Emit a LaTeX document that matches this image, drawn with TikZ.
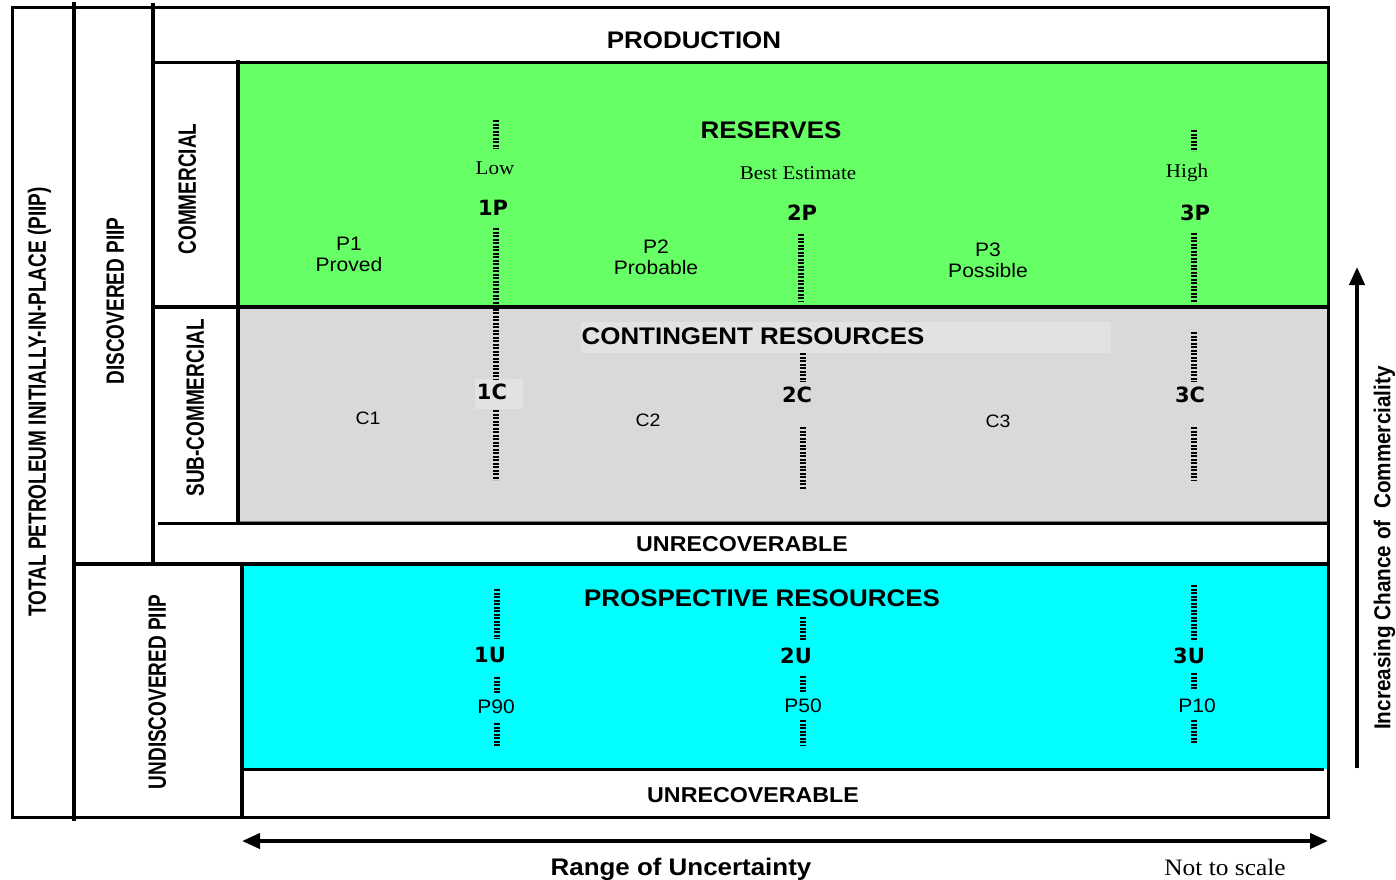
\documentclass[tikz,border=0pt]{standalone}
\usepackage{fontspec}
\usepackage{graphicx}
\setmainfont{Liberation Sans}
\newfontfamily\hfont[FakeStretch=1.08]{Liberation Sans}
\newfontfamily\nfont[FakeStretch=0.76]{Liberation Sans}
\newfontfamily\cfont[FakeStretch=0.9]{Liberation Sans}
\newfontfamily\sfont[FakeStretch=1.08]{Liberation Serif}
\newfontfamily\dfont{DejaVu Sans}
\usetikzlibrary{arrows.meta}
\definecolor{resgreen}{HTML}{66FF66}
\definecolor{congray}{HTML}{D9D9D9}
\definecolor{conlight}{HTML}{E2E2E2}
\definecolor{procyan}{HTML}{00FFFF}
\tikzset{
  heavy/.style={line width=3.5pt, line cap=rect},
  outer/.style={line width=3pt},
  dotln/.style={line width=5.5pt, dash pattern=on 2.2pt off 1.3pt},
  head/.style={font=\hfont\bfseries\fontsize{24}{26}\selectfont, inner sep=0pt, text height=17.2pt, text depth=0pt},
  unrec/.style={font=\hfont\bfseries\fontsize{21.5}{23}\selectfont, inner sep=0pt, text height=15.4pt, text depth=0pt},
  lab/.style={font=\dfont\bfseries\fontsize{21}{21}\selectfont, inner sep=0pt, text height=15.3pt, text depth=0pt},
  reg/.style={font=\hfont\fontsize{19.5}{21}\selectfont, inner sep=0pt, text height=14pt, text depth=0pt, align=center},
  small/.style={font=\hfont\fontsize{18}{20}\selectfont, inner sep=0pt, text height=12.9pt, text depth=0pt},
  ser/.style={font=\sfont\fontsize{19.5}{21}\selectfont, inner sep=0pt, text height=12.9pt, text depth=0pt},
  sidelab/.style={font=\nfont\bfseries\fontsize{25}{25}\selectfont, rotate=90, inner sep=0pt, text height=17.9pt, text depth=0pt},
  arr/.style={line width=4pt, -{Triangle[length=18pt,width=15pt]}},
}
\begin{document}
\begin{tikzpicture}[x=1pt,y=-1pt]
\useasboundingbox (0,0) rectangle (1396,879);
% fills
\fill[resgreen] (238,62) rectangle (1328,307);
\fill[congray] (238,307) rectangle (1328,521);
\fill[conlight] (581,322) rectangle (1111,353);
\fill[conlight] (475,379) rectangle (523,409);
\fill[procyan] (242,565) rectangle (1328,769);
\draw[gray, line width=1pt] (238,521) -- (1328,521);
% frame lines
\draw[outer] (12,7) rectangle (1328,817);
\draw[heavy] (74,4) -- (74,819);
\draw[heavy] (153,5) -- (153,563);
\draw[outer] (153,62) -- (1328,62);
\draw[heavy] (238,62) -- (238,520);
\draw[heavy] (153,307) -- (1328,307);
\draw[outer] (158,523) -- (1328,523);
\draw[heavy] (74,564) -- (1328,564);
\draw[heavy] (242,565) -- (242,816);
\draw[outer] (242,769) -- (1324,769);
% dotted lines column 1
\draw[dotln] (496,120) -- (496,149);
\draw[dotln] (496,228) -- (496,379);
\draw[dotln] (496,410) -- (496,480);
\draw[dotln] (497,589) -- (497,639);
\draw[dotln] (497,677) -- (497,693);
\draw[dotln] (497,723) -- (497,746);
% column 2
\draw[dotln] (801,234) -- (801,302);
\draw[dotln] (803,353) -- (803,382);
\draw[dotln] (803,427) -- (803,489);
\draw[dotln] (803,617) -- (803,640);
\draw[dotln] (803,676) -- (803,693);
\draw[dotln] (803,720) -- (803,746);
% column 3
\draw[dotln] (1194,130) -- (1194,151);
\draw[dotln] (1194,233) -- (1194,302);
\draw[dotln] (1194,332) -- (1194,382);
\draw[dotln] (1194,427) -- (1194,481);
\draw[dotln] (1194,585) -- (1194,641);
\draw[dotln] (1194,673) -- (1194,690);
\draw[dotln] (1194,720) -- (1194,743);
% texts
\node[head] (prod) at (694,40) {PRODUCTION};
\node[head] (res) at (771,130) {RESERVES};
\node[ser] (low) at (495,168) {Low};
\node[ser] (best) at (798,173) {Best Estimate};
\node[ser] (high) at (1187,171) {High};
\node[lab] (p1p) at (493,208) {1P};
\node[lab] (p2p) at (802,213) {2P};
\node[lab] (p3p) at (1195,213) {3P};
\node[reg] (pp1) at (349,264) {P1\\Proved};
\node[reg] (pp2) at (656,267) {P2\\Probable};
\node[reg] (pp3) at (988,270) {P3\\Possible};
\node[head] (cont) at (753,336) {CONTINGENT RESOURCES};
\node[lab] (c1c) at (492,392) {1C};
\node[lab] (c2c) at (797,395) {2C};
\node[lab] (c3c) at (1190,395) {3C};
\node[small] (cc1) at (368,418) {C1};
\node[small] (cc2) at (648,420) {C2};
\node[small] (cc3) at (998,421) {C3};
\node[unrec] (unr1) at (742,544) {UNRECOVERABLE};
\node[head] (pros) at (762,598) {PROSPECTIVE RESOURCES};
\node[lab] (u1u) at (490,655) {1U};
\node[lab] (u2u) at (796,656) {2U};
\node[lab] (u3u) at (1189,656) {3U};
\node[reg] (p90) at (496,706) {P90};
\node[reg] (p50) at (803,705) {P50};
\node[reg] (p10) at (1197,705) {P10};
\node[unrec] (unr2) at (753,795) {UNRECOVERABLE};
\node[head] (range) at (681,867) {Range of Uncertainty};
\node[ser, font=\sfont\fontsize{23.5}{25}\selectfont, text height=15.5pt] (nts) at (1225,868) {Not to scale};
% side labels
\node[sidelab] (tot) at (37,402) {TOTAL PETROLEUM INITIALLY-IN-PLACE (PIIP)};
\node[sidelab] (disc) at (115,301) {DISCOVERED PIIP};
\node[sidelab] (comm) at (187,189) {COMMERCIAL};
\node[sidelab] (subc) at (195,408) {SUB-COMMERCIAL};
\node[sidelab] (undisc) at (157,692) {UNDISCOVERED PIIP};
\node[font=\cfont\bfseries\fontsize{23}{23}\selectfont, rotate=90, inner sep=0pt, text height=16.5pt, text depth=0pt] (incr) at (1382,548) {Increasing Chance of\ \ Commerciality};
% arrows
\coordinate (hl) at (242,841);
\coordinate (hr) at (1328,841);
\draw[arr, {Triangle[length=18pt,width=15pt]}-{Triangle[length=18pt,width=15pt]}] (hl) -- (hr);
\coordinate (vb) at (1357,768);
\coordinate (vt) at (1357,267);
\draw[arr] (vb) -- (vt);
\end{tikzpicture}
\end{document}
